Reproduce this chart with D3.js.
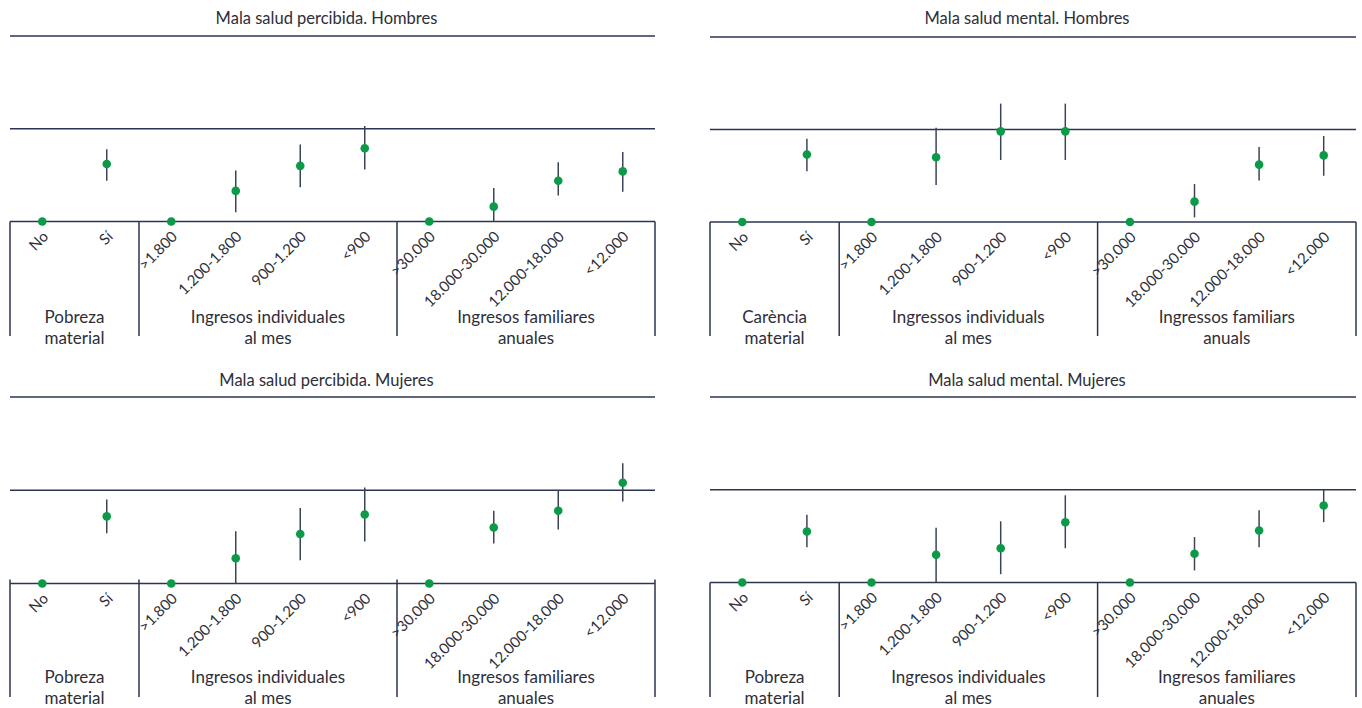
<!DOCTYPE html>
<html>
<head>
<meta charset="utf-8">
<script src="https://cdn.jsdelivr.net/npm/d3@7/dist/d3.min.js"></script>
<style>
  html, body { margin: 0; padding: 0; background: #ffffff; }
  svg { display: block; }
  text { font-family: Lato, "Open Sans", sans-serif; fill: #2e2e38; }
</style>
</head>
<body>
<svg id="chart" width="1362" height="708"></svg>
<script>
// ---- Data ----
const categories = ["No", "Sí", ">1.800", "1.200-1.800", "900-1.200", "<900",
                    ">30.000", "18.000-30.000", "12.000-18.000", "<12.000"];

const groupStarts = [0, 2, 6, 10];
const groupLabelsES = [["Pobreza", "material"], ["Ingresos individuales", "al mes"], ["Ingresos familiares", "anuales"]];
const groupLabelsCA = [["Carència", "material"], ["Ingressos individuals", "al mes"], ["Ingressos familiars", "anuals"]];

const panelTitles = ["Mala salud percibida. Hombres", "Mala salud mental. Hombres",
                     "Mala salud percibida. Mujeres", "Mala salud mental. Mujeres"];

const gridValues = [1, 2, 3];

// Odds-ratio style estimates (reference category = 1) with confidence limits
const percibidaHombres     = [1, 1.62, 1, 1.33, 1.60, 1.79, 1, 1.16, 1.44, 1.54];
const percibidaHombresLow  = [null, 1.44, null, 1.10, 1.37, 1.56, null, 1.00, 1.28, 1.32];
const percibidaHombresHigh = [null, 1.78, null, 1.55, 1.83, 2.03, null, 1.36, 1.64, 1.75];

const mentalHombres     = [1, 1.73, 1, 1.70, 1.98, 1.98, 1, 1.22, 1.62, 1.72];
const mentalHombresLow  = [null, 1.55, null, 1.40, 1.67, 1.67, null, 1.05, 1.45, 1.50];
const mentalHombresHigh = [null, 1.90, null, 2.02, 2.28, 2.28, null, 1.41, 1.81, 1.93];

const percibidaMujeres     = [1, 1.72, 1, 1.27, 1.53, 1.74, 1, 1.60, 1.78, 2.08];
const percibidaMujeresLow  = [null, 1.54, null, 1.00, 1.25, 1.45, null, 1.43, 1.58, 1.88];
const percibidaMujeresHigh = [null, 1.90, null, 1.56, 1.81, 2.03, null, 1.78, 2.00, 2.29];

const mentalMujeres     = [1, 1.55, 1, 1.30, 1.37, 1.65, 1, 1.31, 1.56, 1.83];
const mentalMujeresLow  = [null, 1.38, null, 1.00, 1.09, 1.37, null, 1.13, 1.38, 1.65];
const mentalMujeresHigh = [null, 1.73, null, 1.59, 1.66, 1.94, null, 1.49, 1.78, 2.00];

// ---- Layout ----
const panels = [
  { title: panelTitles[0], est: percibidaHombres, lo: percibidaHombresLow, hi: percibidaHombresHigh,
    groups: groupLabelsES, x0: 10, x1: 655, yTop: 36, yBase: 221.5, titleY: 24, sepBottom: 336, lab1: 323, lab2: 344, tickUp: 0 },
  { title: panelTitles[1], est: mentalHombres, lo: mentalHombresLow, hi: mentalHombresHigh,
    groups: groupLabelsCA, x0: 710, x1: 1356, yTop: 37, yBase: 222, titleY: 24, sepBottom: 336, lab1: 323, lab2: 344, tickUp: 0 },
  { title: panelTitles[2], est: percibidaMujeres, lo: percibidaMujeresLow, hi: percibidaMujeresHigh,
    groups: groupLabelsES, x0: 10, x1: 655, yTop: 397, yBase: 583.5, titleY: 386, sepBottom: 697, lab1: 683, lab2: 704, tickUp: 4 },
  { title: panelTitles[3], est: mentalMujeres, lo: mentalMujeresLow, hi: mentalMujeresHigh,
    groups: groupLabelsES, x0: 710, x1: 1356, yTop: 397, yBase: 582.5, titleY: 386, sepBottom: 697, lab1: 683, lab2: 704, tickUp: 0 }
];

const lineColor = "#2b3550";
const barColor = "#3c4457";
const dotColor = "#0b9a48";

const svg = d3.select("#chart");

panels.forEach(p => {
  const g = svg.append("g");
  const x = d3.scaleBand().domain(categories).range([p.x0, p.x1]).padding(0);
  const y = d3.scaleLinear().domain([1, 3]).range([p.yBase, p.yTop]);
  const cx = c => x(c) + x.bandwidth() / 2;

  // title
  g.append("text")
    .attr("x", (p.x0 + p.x1) / 2 - 6)
    .attr("y", p.titleY)
    .attr("text-anchor", "middle")
    .attr("font-size", 16.5)
    .text(p.title);

  // horizontal reference lines
  g.selectAll("line.grid").data(gridValues).join("line")
    .attr("class", "grid")
    .attr("x1", p.x0).attr("x2", p.x1)
    .attr("y1", d => y(d)).attr("y2", d => y(d))
    .attr("stroke", lineColor).attr("stroke-width", 1.5);

  // group separators
  g.selectAll("line.sep").data(groupStarts).join("line")
    .attr("class", "sep")
    .attr("x1", d => d < categories.length ? x(categories[d]) : p.x1)
    .attr("x2", d => d < categories.length ? x(categories[d]) : p.x1)
    .attr("y1", y(1) - p.tickUp).attr("y2", p.sepBottom)
    .attr("stroke", lineColor).attr("stroke-width", 1.5);

  // category labels (rotated)
  g.selectAll("text.cat").data(categories).join("text")
    .attr("class", "cat")
    .attr("text-anchor", "end")
    .attr("font-size", 15)
    .attr("transform", d => `translate(${cx(d) + 7},${y(1) + 16}) rotate(-45)`)
    .text(d => d);

  // group labels
  const groupData = p.groups.map((lab, i) => ({
    lab, mid: ((groupStarts[i] === 0 ? p.x0 : x(categories[groupStarts[i]])) +
               (groupStarts[i + 1] < categories.length ? x(categories[groupStarts[i + 1]]) : p.x1)) / 2
  }));
  const gl = g.selectAll("text.grp").data(groupData).join("text")
    .attr("class", "grp")
    .attr("text-anchor", "middle")
    .attr("font-size", 17);
  gl.append("tspan").attr("x", d => d.mid).attr("y", p.lab1).text(d => d.lab[0]);
  gl.append("tspan").attr("x", d => d.mid).attr("y", p.lab2).text(d => d.lab[1]);

  const rows = categories.map((c, i) => ({ c, v: p.est[i], lo: p.lo[i], hi: p.hi[i] }));

  // error bars
  g.selectAll("line.err").data(rows.filter(r => r.lo !== null)).join("line")
    .attr("class", "err")
    .attr("x1", d => cx(d.c)).attr("x2", d => cx(d.c))
    .attr("y1", d => y(d.lo)).attr("y2", d => y(d.hi))
    .attr("stroke", barColor).attr("stroke-width", 1.5);

  // points
  g.selectAll("circle.pt").data(rows).join("circle")
    .attr("class", "pt")
    .attr("cx", d => cx(d.c)).attr("cy", d => y(d.v))
    .attr("r", 4.3)
    .attr("fill", dotColor);
});
</script>
</body>
</html>
